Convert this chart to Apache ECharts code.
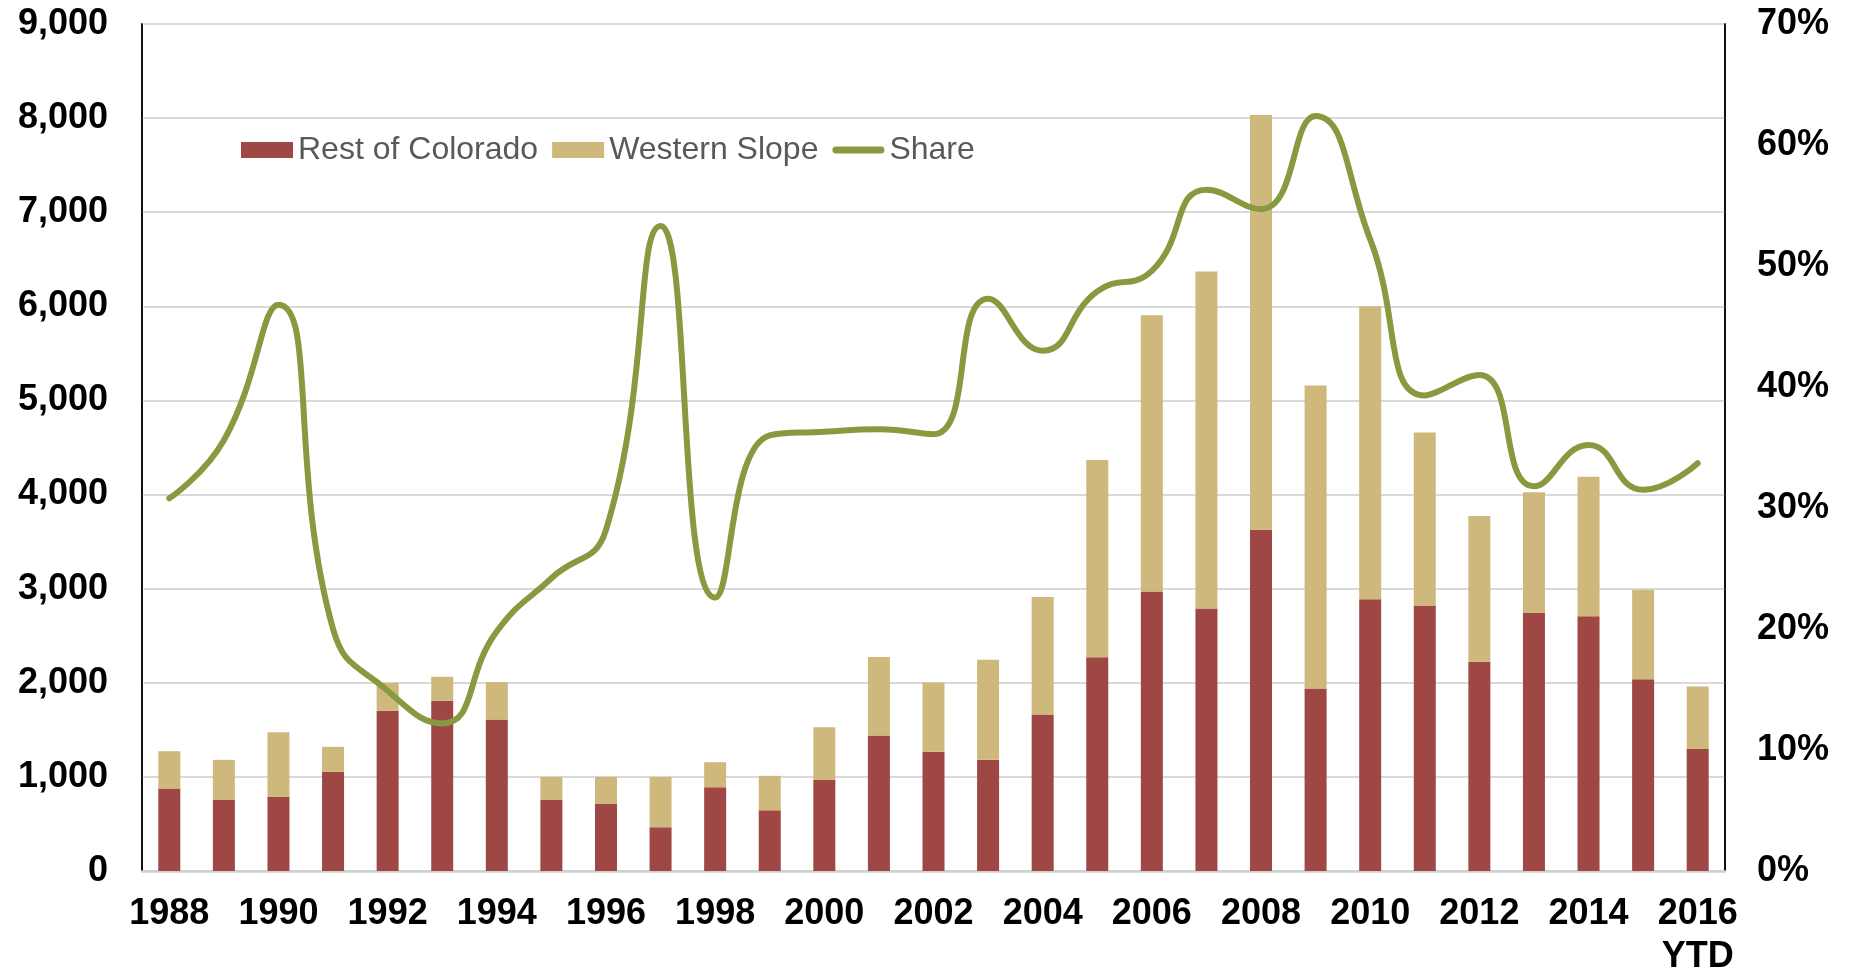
<!DOCTYPE html>
<html>
<head>
<meta charset="utf-8">
<script src="https://cdn.jsdelivr.net/npm/echarts@6/dist/echarts.min.js"></script>
<style>
  html, body { margin: 0; padding: 0; background: #fff; overflow: hidden; }
  #chart { width: 1854px; height: 974px; }
</style>
</head>
<body>
<div id="chart"></div>
<script>
// Years shown on the category axis (last one is year-to-date)
const years = ['1988','1989','1990','1991','1992','1993','1994','1995','1996','1997',
  '1998','1999','2000','2001','2002','2003','2004','2005','2006','2007','2008','2009',
  '2010','2011','2012','2013','2014','2015','2016\nYTD'];

// Counts for the rest of the state (bottom of each stack)
const restOfColorado = [876, 759, 787, 1053, 1702, 1809, 1610, 759, 716, 465,
  890, 645, 968, 1440, 1267, 1182, 1663, 2270, 2969, 2789, 3625, 1938,
  2888, 2822, 2223, 2741, 2708, 2038, 1297];

// Counts for the Western Slope (top of each stack)
const westernSlope = [397, 422, 688, 266, 298, 255, 397, 241, 284, 535,
  266, 366, 560, 833, 737, 1062, 1249, 2096, 2936, 3582, 4408, 3221,
  3112, 1838, 1549, 1283, 1482, 950, 663];

// Western Slope share of the total, percent
const share = [30.8, 35.6, 46.8, 20.0, 14.9, 12.2, 19.8, 24.2, 28.2, 53.3,
  22.6, 36.0, 36.3, 36.5, 36.1, 47.3, 43.0, 47.9, 49.6, 56.3, 54.7, 62.4,
  52.2, 39.3, 41.0, 31.8, 35.2, 31.5, 33.7];

// Axis tick settings
const countMax = 9000, countStep = 1000;
const shareMax = 70, shareStep = 10;

const FONT = "'Liberation Sans', Arial, sans-serif";
const RED = '#9E4744';
const TAN = '#CFB87C';
const GREEN = '#879A40';

// Thick rounded stroke used as the legend marker of the line series
const LINE_ICON = 'path://M3.5,0 L48.5,0 A3.5,3.5 0 0 1 48.5,7 L3.5,7 A3.5,3.5 0 0 1 3.5,0 Z';

const chart = echarts.init(document.getElementById('chart'), null, { renderer: 'canvas' });

chart.setOption({
  animation: false,
  textStyle: { fontFamily: FONT },
  grid: {
    left: 142, right: 129, top: 24, bottom: 103,
    outerBoundsMode: 'none',
    show: true, borderColor: '#000', borderWidth: 1.5, backgroundColor: 'transparent'
  },
  legend: {
    left: 236, top: 129,
    itemWidth: 52, itemHeight: 16, itemGap: 14,
    textStyle: { fontFamily: FONT, fontSize: 32, color: '#595959' },
    data: [
      { name: 'Rest of Colorado', icon: 'rect' },
      { name: 'Western Slope', icon: 'rect' },
      { name: 'Share', icon: LINE_ICON }
    ]
  },
  xAxis: {
    type: 'category',
    data: years,
    axisLine: { show: true, lineStyle: { color: '#CFCFCF', width: 2.5 } },
    axisTick: { show: false },
    axisLabel: {
      interval: 1,
      margin: 22,
      fontFamily: FONT, fontSize: 36, fontWeight: 'bold', color: '#000',
      lineHeight: 43
    }
  },
  yAxis: [
    {
      type: 'value', min: 0, max: countMax, interval: countStep,
      axisLine: { show: true, lineStyle: { color: '#000', width: 1.5 } },
      axisTick: { show: false },
      splitLine: { lineStyle: { color: '#D9D9D9', width: 2 } },
      axisLabel: {
        margin: 34,
        fontFamily: FONT, fontSize: 36, fontWeight: 'bold', color: '#000',
        formatter: v => v.toLocaleString('en-US')
      }
    },
    {
      type: 'value', min: 0, max: shareMax, interval: shareStep,
      position: 'right',
      axisLine: { show: true, lineStyle: { color: '#000', width: 1.5 } },
      axisTick: { show: false },
      splitLine: { show: false },
      axisLabel: {
        margin: 32,
        fontFamily: FONT, fontSize: 36, fontWeight: 'bold', color: '#000',
        formatter: v => v + '%'
      }
    }
  ],
  series: [
    {
      name: 'Rest of Colorado', type: 'bar', stack: 'total',
      barWidth: 22, itemStyle: { color: RED },
      data: restOfColorado
    },
    {
      name: 'Western Slope', type: 'bar', stack: 'total',
      barWidth: 22, itemStyle: { color: TAN },
      data: westernSlope
    },
    {
      name: 'Share', type: 'line', yAxisIndex: 1,
      smooth: 0.5, symbol: 'none',
      lineStyle: { color: GREEN, width: 6, cap: 'round', join: 'round' },
      itemStyle: { color: GREEN },
      data: share, z: 5
    }
  ]
});
</script>
</body>
</html>
